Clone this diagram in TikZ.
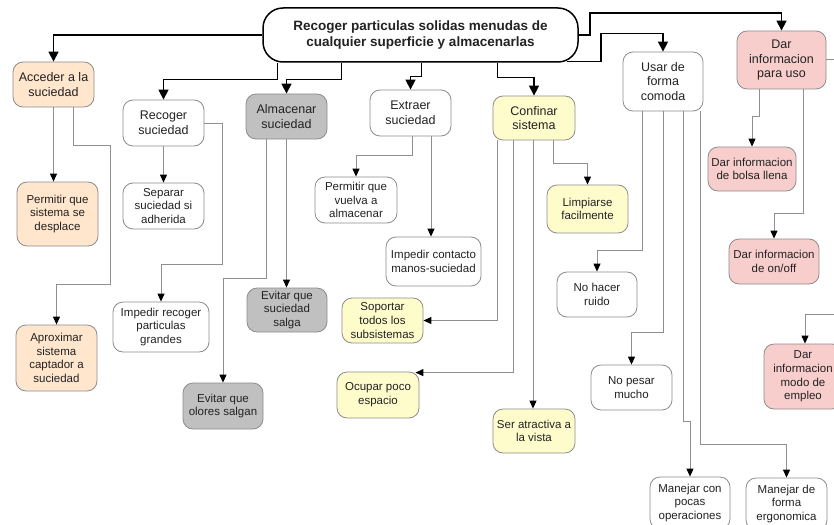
\documentclass[tikz,border=0pt]{standalone}
\usepackage{fontspec}
\setmainfont{Liberation Sans}
\usetikzlibrary{arrows.meta,calc,backgrounds}

\definecolor{txt}{HTML}{222222}
\definecolor{boxline}{HTML}{8C8C8C}
\definecolor{linegray}{HTML}{8F8F8F}
\definecolor{peach}{HTML}{FFE6CC}
\definecolor{stone}{HTML}{C0C0C0}
\definecolor{cream}{HTML}{FFFCCC}
\definecolor{rose}{HTML}{F8CECC}

\begin{document}
\begin{tikzpicture}[x=1pt,y=-1pt,
  box/.style={draw=boxline, line width=0.8pt, rounded corners=10pt, align=center,
    inner sep=0pt, text=txt, font=\fontsize{11.5}{13.7}\selectfont},
  bigbox/.style={box, font=\fontsize{12.5}{14.5}\selectfont},
  sz/.style 2 args={minimum width=#1pt, minimum height=#2pt},
  mainarrow/.style={draw=black, line width=1.5pt, -{Triangle[length=10pt,width=10pt]}},
  subarrow/.style={draw=linegray, line width=1pt, -{Triangle[length=8pt,width=7pt,color=black]}}
]
\useasboundingbox (0,0) rectangle (834,524);

% root goal
\node[draw=black, line width=1.5pt, rounded corners=20pt, fill=white, align=center,
  inner sep=0pt, text=txt, font=\fontsize{13.5}{16.5}\selectfont\bfseries, sz={315}{54}]
  (title) at (420.5,35) {Recoger particulas solidas menudas de\\cualquier superficie y almacenarlas};

% first level
\node[bigbox, fill=peach, sz={81}{45}] (acc) at (53.5,84.5) {Acceder a la\\suciedad};
\node[bigbox, fill=white, sz={81}{46}] (rec) at (163.5,123) {Recoger\\suciedad};
\node[bigbox, fill=stone, sz={81}{45}] (alm) at (286.5,116.5) {Almacenar\\suciedad};
\node[bigbox, fill=white, sz={81}{46}] (ext) at (410.5,113) {Extraer\\suciedad};
\node[bigbox, fill=cream, sz={82}{44}] (conf) at (534,118) {Confinar\\sistema};
\node[bigbox, fill=white, sz={80}{59}] (usar) at (663,81.5) {Usar de\\forma\\comoda};
\node[bigbox, fill=rose, sz={89}{58}] (dar) at (781.5,60) {Dar\\informacion\\para uso};

% second level
\node[box, fill=peach, sz={81}{64}] (perm) at (57.5,214) {Permitir que\\sistema se\\desplace};
\node[box, fill=peach, sz={81}{66}] (aprox) at (56.5,358) {Aproximar\\sistema\\captador a\\suciedad};
\node[box, fill=white, sz={81}{46}] (sep) at (163.5,206) {Separar\\suciedad si\\adherida};
\node[box, fill=white, sz={96}{50}] (imprec) at (161,327) {Impedir recoger\\particulas\\grandes};
\node[box, fill=stone, sz={80}{44}] (evsal) at (287,310) {Evitar que\\suciedad\\salga};
\node[box, fill=stone, sz={80}{46}] (evolo) at (223,406) {Evitar que\\olores salgan};
\node[box, fill=white, sz={82}{46}] (pvuel) at (356,200) {Permitir que\\vuelva a\\almacenar};
\node[box, fill=white, sz={95}{49}] (imcon) at (433.5,261.5) {Impedir contacto\\manos-suciedad};
\node[box, fill=cream, sz={81}{45}] (sop) at (382.5,320.5) {Soportar\\todos los\\subsistemas};
\node[box, fill=cream, sz={82}{46}] (ocu) at (378,395) {Ocupar poco\\espacio};
\node[box, fill=cream, sz={82}{44}] (ser) at (534,431) {Ser atractiva a\\la vista};
\node[box, fill=cream, sz={81}{48}] (limp) at (587.5,209) {Limpiarse\\facilmente};
\node[box, fill=white, sz={80}{45}] (nohac) at (597,294.5) {No hacer\\ruido};
\node[box, fill=white, sz={81}{45}] (nopes) at (631.5,387.5) {No pesar\\mucho};
\node[box, fill=white, sz={80}{52}] (manc) at (690,503) {Manejar con\\pocas\\operaciones};
\node[box, fill=white, sz={81}{52}] (manf) at (786.5,504) {Manejar de\\forma\\ergonomica};
\node[box, fill=rose, sz={88}{44}] (bolsa) at (752,169) {Dar informacion\\de bolsa llena};
\node[box, fill=rose, sz={90}{45}] (onoff) at (774,261.5) {Dar informacion\\de on/off};
\node[box, fill=rose, sz={78}{65}] (modo) at (803,376.5) {Dar\\informacion\\modo de\\empleo};

% connectors continuing past the right edge
\coordinate (outA) at (850,60);
\coordinate (outB) at (850,314);

\begin{pgfonlayer}{background}
% root to first level
\draw[mainarrow] (title.west) -| (acc.north);
\draw[mainarrow] ($(title.south west)+(15,0)$) -- ++(0,17) -| (rec.north);
\draw[mainarrow] ($(title.south west)+(79,0)$) -- ++(0,17) -| (alm.north);
\draw[mainarrow] ($(title.south west)+(159,0)$) -- ++(0,14) -| (ext.north);
\draw[mainarrow] ($(title.south west)+(235,0)$) -- ++(0,15) -| (conf.north);
\draw[mainarrow] ($(title.south east)+(-12,-1)$) -- ++(34,0) -- ++(0,-28) -| (usar.north);
\draw[mainarrow] (title.east) -- ++(11,0) -- ++(0,-22) -| (dar.north);

% Acceder a la suciedad
\draw[subarrow] (acc.south) -- (acc.south |- perm.north);
\draw[subarrow] ($(acc.south)+(19.5,0)$) |- (110,145) -- (110,284) -| (aprox.north);

% Recoger suciedad
\draw[subarrow] (rec.south) -- (sep.north);
\draw[subarrow] (rec.east) -| (222,264) -| (imprec.north);

% Almacenar suciedad
\draw[subarrow] (alm.south) -- (alm.south |- evsal.north);
\draw[subarrow] ($(alm.south)+(-20.5,0)$) -- ++(0,139) -| (evolo.north);

% Extraer suciedad
\draw[subarrow] ($(ext.south)+(1.5,0)$) -- ++(0,19) -| (pvuel.north);
\draw[subarrow] ($(ext.south)+(20.5,0)$) coordinate (e2) -- (e2 |- imcon.north);

% Confinar sistema
\draw[subarrow] ($(conf.south)+(-37,0)$) |- (sop.east);
\draw[subarrow] ($(conf.south)+(-21,0)$) |- ($(ocu.north east)+(-4,1)$);
\draw[subarrow] ($(conf.south)+(-1,0)$) coordinate (c3) -- (c3 |- ser.north);
\draw[subarrow] ($(conf.south)+(19,0)$) -- ++(0,23) -| (limp.north);

% Usar de forma comoda
\draw[subarrow] ($(usar.south)+(-21,0)$) -- ++(0,139) -| (nohac.north);
\draw[subarrow] (usar.south) -- ++(0,221) -| (nopes.north);
\draw[subarrow] ($(usar.south)+(20,0)$) -- ++(0,310) -| (manc.north);
\draw[subarrow] ($(usar.south)+(37,0)$) -- ++(0,333) -| (manf.north);

% Dar informacion para uso
\draw[subarrow] ($(dar.south)+(-22.5,0)$) -- ++(0,27) -| (bolsa.north);
\draw[subarrow] ($(dar.south)+(21.5,0)$) -- ++(0,124) -| (onoff.north);
\draw[draw=linegray, line width=1pt] (dar.east) -- (outA);
\draw[subarrow] (outB) -| ($(modo.north)+(2,0)$);
\end{pgfonlayer}
\end{tikzpicture}
\end{document}
